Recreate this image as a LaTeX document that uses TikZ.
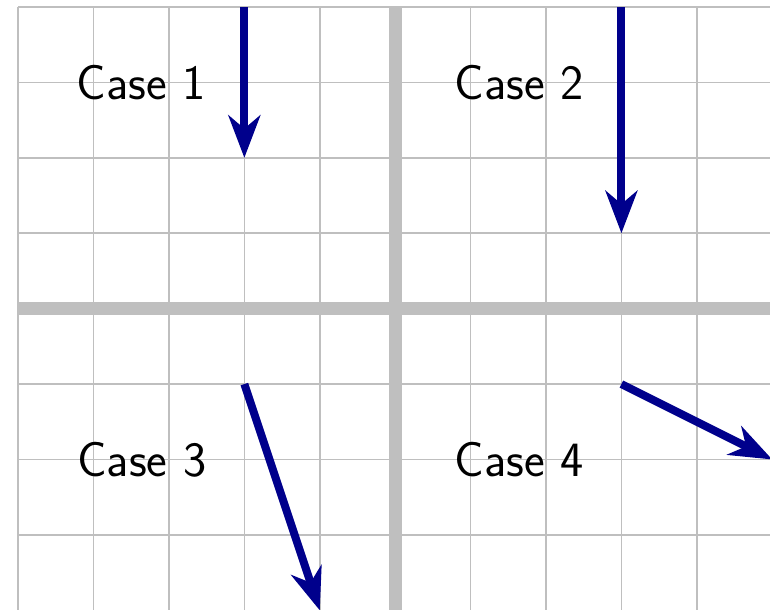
\documentclass[tikz,border=0pt]{standalone}
\usetikzlibrary{arrows.meta}
\definecolor{arrowblue}{rgb}{0,0,0.55}
\tikzset{
  thingrid/.style={draw=lightgray, line width=0.6pt},
  thickgrid/.style={draw=lightgray, line width=5pt},
  vec/.style={draw=arrowblue, line width=3pt, -{Stealth[length=16pt,width=12pt,inset=5pt]}},
  caselabel/.style={font=\sffamily\fontsize{18.6}{22}\selectfont, inner sep=0pt}
}
\begin{document}
\begin{tikzpicture}
\useasboundingbox (-0.24,-3.985) rectangle (9.97,4.093);
\begin{scope}
\clip (-0.24,-3.985) rectangle (9.97,4.093);
\draw[thingrid] (0,-4) grid (10,4);
\draw[thickgrid] (5,-4) -- (5,4);
\draw[thickgrid] (0,0) -- (10,0);
\end{scope}
\node[caselabel] (c1) at (1.63,3) {Case 1};
\node[caselabel] (c2) at (6.64,3) {Case 2};
\node[caselabel] (c3) at (1.64,-2) {Case 3};
\node[caselabel] (c4) at (6.64,-2) {Case 4};
\coordinate (a1s) at (3,4);
\coordinate (a1e) at (3,2);
\coordinate (a2s) at (8,4);
\coordinate (a2e) at (8,1);
\coordinate (a3s) at (3,-1);
\coordinate (a3e) at (4,-4);
\coordinate (a4s) at (8,-1);
\coordinate (a4e) at (10,-2);
\draw[vec] (a1s) -- (a1e);
\draw[vec] (a2s) -- (a2e);
\draw[vec] (a3s) -- (a3e);
\draw[vec] (a4s) -- (a4e);
\end{tikzpicture}
\end{document}
